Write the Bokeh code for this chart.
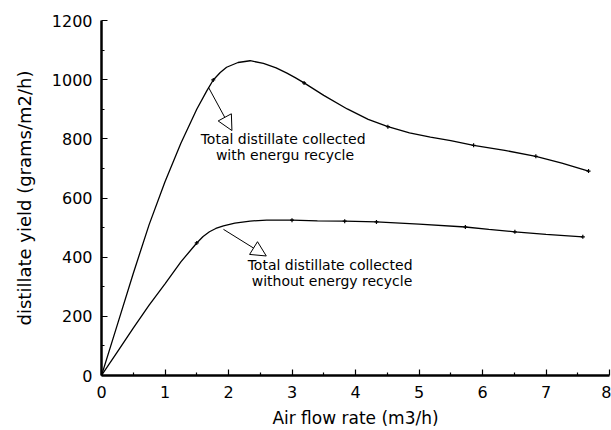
from bokeh.plotting import figure
from bokeh.models import Range1d, FixedTicker, Arrow, NormalHead, Label
from bokeh.embed import file_html
from bokeh.resources import INLINE

# Smooth curves
curve_with_x = [0, 0.25, 0.5, 0.75, 1.0, 1.25, 1.5, 1.66, 1.76, 1.87, 1.97, 2.15, 2.34,
                2.55, 2.75, 2.92, 3.05, 3.19, 3.5, 3.87, 4.2, 4.51, 4.85, 5.18, 5.5,
                5.86, 6.35, 6.84, 7.25, 7.67]
curve_with_y = [0, 172, 345, 510, 655, 785, 900, 963, 999, 1024, 1042, 1058, 1064,
                1055, 1040, 1022, 1007, 989, 947, 901, 866, 841, 820, 806, 794,
                778, 761, 741, 718, 691]

curve_without_x = [0, 0.25, 0.5, 0.75, 1.0, 1.25, 1.5, 1.6, 1.7, 1.8, 1.92, 2.1, 2.34,
                   2.6, 3.0, 3.4, 3.83, 4.33, 5.0, 5.73, 6.1, 6.51, 7.0, 7.58]
curve_without_y = [0, 80, 160, 238, 310, 384, 448, 470, 486, 497, 506, 515, 522,
                   525.5, 525, 523, 521.6, 519, 512, 502, 494, 485.5, 477, 468.7]

# Measured points (markers)
with_x = [1.76, 3.19, 4.51, 5.86, 6.84, 7.67]
with_y = [999, 989, 841, 778, 741, 691]
without_x = [1.5, 3.0, 3.83, 4.33, 5.73, 6.51, 7.58]
without_y = [448, 525, 521.6, 519, 502, 485.5, 468.7]

x_ticks = [0, 1, 2, 3, 4, 5, 6, 7, 8]
y_ticks = [0, 200, 400, 600, 800, 1000, 1200]

FONT = "DejaVu Sans"

p = figure(width=611, height=430, output_backend="svg", toolbar_location=None,
           x_range=Range1d(0, 8), y_range=Range1d(0, 1200),
           min_border_left=101, min_border_right=2, min_border_top=20, min_border_bottom=54)
p.outline_line_color = None
p.xgrid.visible = False
p.ygrid.visible = False
p.background_fill_color = "white"

p.line(curve_with_x, curve_with_y, line_color="black", line_width=1.3)
p.line(curve_without_x, curve_without_y, line_color="black", line_width=1.3)
p.scatter(with_x, with_y, marker="cross", size=4, line_color="black", line_width=1.2)
p.scatter(without_x, without_y, marker="cross", size=4, line_color="black", line_width=1.2)

for ax, ticks, minor in ((p.xaxis[0], x_ticks, [i + 0.5 for i in range(8)]),
                         (p.yaxis[0], y_ticks, [100 + 200 * i for i in range(6)])):
    ax.ticker = FixedTicker(ticks=ticks, minor_ticks=minor)
    ax.axis_line_width = 2.5
    ax.axis_line_color = "black"
    ax.major_tick_in = 6
    ax.major_tick_out = 0
    ax.minor_tick_in = 3
    ax.minor_tick_out = 0
    ax.major_tick_line_width = 1.2
    ax.minor_tick_line_width = 1.2
    ax.major_tick_line_color = "black"
    ax.minor_tick_line_color = "black"
    ax.major_label_text_font = FONT
    ax.major_label_text_font_size = "16px"
    ax.major_label_text_color = "black"
    ax.axis_label_text_font = FONT
    ax.axis_label_text_font_style = "normal"
    ax.axis_label_text_color = "black"

p.xaxis.axis_label = "Air flow rate (m3/h)"
p.yaxis.axis_label = "distillate yield (grams/m2/h)"
p.xaxis.axis_label_text_font_size = "17px"
p.yaxis.axis_label_text_font_size = "18px"
p.xaxis.major_label_standoff = 10
p.yaxis.major_label_standoff = 9
p.xaxis.axis_label_standoff = 7
p.yaxis.axis_label_standoff = 14

# Annotation arrows
p.add_layout(Arrow(end=NormalHead(size=15, fill_color="white", line_color="black", line_width=1),
                   x_start=1.685, y_start=974, x_end=2.054, y_end=828,
                   line_color="black", line_width=1))
p.add_layout(Arrow(end=NormalHead(size=15, fill_color="white", line_color="black", line_width=1),
                   x_start=1.921, y_start=494, x_end=2.595, y_end=404,
                   line_color="black", line_width=1))

def lab(x, y, t):
    p.add_layout(Label(x=x, y=y, text=t, text_align="center", text_baseline="middle",
                       text_font=FONT, text_font_size="14px", text_color="black"))

lab(2.86, 798, "Total distillate collected")
lab(2.89, 744, "with energu recycle")
lab(3.60, 373, "Total distillate collected")
lab(3.63, 318, "without energy recycle")

open("out.html", "w").write(file_html(p, INLINE))
